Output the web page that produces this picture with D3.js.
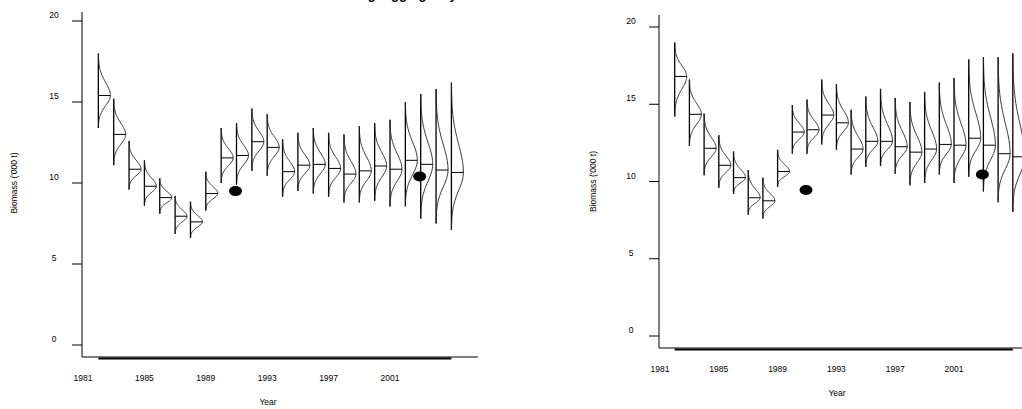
<!DOCTYPE html>
<html>
<head>
<meta charset="utf-8">
<script src="https://d3js.org/d3.v7.min.js"></script>
<style>
  body { margin: 0; background: #fff; }
  svg { display: block; font-family: "Liberation Sans", Arial, sans-serif; }
</style>
</head>
<body>
<svg id="chart" width="1022" height="409"></svg>
<script>
// Years shown as posterior distributions
var years = d3.range(1982, 2006);
var xTicks = [1981, 1985, 1989, 1993, 1997, 2001];
var yTicks = [0, 5, 10, 15, 20];

// Left panel: median, lower and upper extent ('000 t)
var leftMedian = [15.4, 13.0, 10.85, 9.8, 9.1, 7.95, 7.6, 9.35, 11.55, 11.7, 12.55, 12.2,
                  10.7, 11.1, 11.15, 10.9, 10.55, 10.75, 11.05, 10.85, 11.4, 11.15, 10.8, 10.65];
var leftLow = [13.4, 11.1, 9.6, 8.6, 8.1, 6.85, 6.6, 8.3, 10.0, 9.9, 10.75, 10.45,
               9.15, 9.5, 9.35, 9.15, 8.8, 8.8, 8.9, 8.55, 8.55, 7.8, 7.5, 7.1];
var leftHigh = [18.0, 15.2, 12.6, 11.4, 10.3, 9.2, 8.85, 10.7, 13.4, 13.7, 14.6, 14.25,
                12.7, 13.1, 13.4, 13.1, 13.0, 13.5, 13.7, 13.9, 15.0, 15.5, 15.8, 16.2];
var leftObsYears = [1991, 2003];
var leftObs = [9.5, 10.4];

// Right panel
var rightMedian = [16.8, 14.35, 12.15, 11.05, 10.25, 8.95, 8.75, 10.65, 13.2, 13.35, 14.3, 13.8,
                   12.1, 12.6, 12.6, 12.25, 11.9, 12.1, 12.4, 12.35, 12.8, 12.35, 11.8, 11.6];
var rightLow = [14.2, 12.3, 10.4, 9.6, 9.2, 7.85, 7.6, 9.65, 11.8, 11.8, 12.4, 12.05,
                10.45, 10.95, 11.0, 10.5, 9.75, 9.9, 10.45, 9.9, 10.3, 9.35, 8.65, 8.05];
var rightHigh = [19.0, 16.6, 14.4, 13.0, 11.95, 10.75, 10.25, 12.05, 14.95, 15.3, 16.6, 16.3,
                 14.65, 15.5, 16.0, 15.4, 15.15, 15.8, 16.4, 16.7, 17.9, 18.05, 18.05, 18.3];
var rightObsYears = [1991, 2003];
var rightObs = [9.45, 10.45];

var svg = d3.select("#chart");

// title sits mostly above the window, only descenders show
svg.append("text").attr("x", 370).attr("y", -1).attr("text-anchor", "middle")
  .attr("font-size", 13).attr("font-weight", "bold").text("Biomass using tagging only");

function drawPanel(p) {
  var g = svg.append("g");
  var x = d3.scaleLinear().domain([1981, 2001]).range([p.x0, p.x1]);
  var y = d3.scaleLinear().domain([0, 20]).range([p.y0, p.y20]);

  // y axis
  g.append("line").attr("x1", p.ax).attr("x2", p.ax).attr("y1", p.top).attr("y2", p.base)
    .attr("stroke", "#000");
  g.selectAll(".yt").data(yTicks).enter().append("line")
    .attr("x1", p.ax - 10).attr("x2", p.ax).attr("y1", d => y(d)).attr("y2", d => y(d))
    .attr("stroke", "#000");
  g.selectAll(".yl").data(yTicks).enter().append("text")
    .attr("x", p.ax - 28).attr("y", d => y(d) - 3).attr("text-anchor", "middle")
    .attr("font-size", 8.5).text(d => d);

  // x axis
  g.append("line").attr("x1", p.ax).attr("x2", p.right).attr("y1", p.base).attr("y2", p.base)
    .attr("stroke", "#000");
  g.append("line").attr("x1", x(years[0])).attr("x2", x(years[years.length - 1]))
    .attr("y1", p.base + 1.5).attr("y2", p.base + 1.5).attr("stroke", "#000").attr("stroke-width", 2);
  g.selectAll(".xl").data(xTicks).enter().append("text")
    .attr("x", d => x(d)).attr("y", p.base + 24).attr("text-anchor", "middle")
    .attr("font-size", 8.5).text(d => d);

  g.append("text").attr("x", p.xlabX).attr("y", p.base + 48).attr("text-anchor", "middle")
    .attr("font-size", 8.5).text("Year");
  g.append("text").attr("transform", "translate(" + p.ylabX + "," + (p.y0 + p.y20) / 2 + ") rotate(-90)")
    .attr("text-anchor", "middle").attr("font-size", 8.5).text("Biomass ('000 t)");

  // half violins
  years.forEach(function(yr, i) {
    var med = p.med[i], lo = p.lo[i], hi = p.hi[i];
    var su = (hi - med) / 3.2, sl = (med - lo) / 3.2;
    var vals = d3.range(0, 61).map(k => lo + (hi - lo) * k / 60);
    var line = d3.line()
      .x(v => x(yr) + 12 * Math.exp(-0.5 * Math.pow((v - med) / (v > med ? su : sl), 2)))
      .y(v => y(v));
    g.append("line").attr("x1", x(yr)).attr("x2", x(yr)).attr("y1", y(lo)).attr("y2", y(hi))
      .attr("stroke", "#000").attr("stroke-width", 1.3);
    g.append("path").attr("d", line(vals)).attr("fill", "none").attr("stroke", "#222").attr("stroke-width", 0.9);
    g.append("line").attr("x1", x(yr)).attr("x2", x(yr) + 12).attr("y1", y(med)).attr("y2", y(med))
      .attr("stroke", "#000");
  });

  // observed points
  g.selectAll(".obs").data(p.obsYears).enter().append("ellipse")
    .attr("cx", d => x(d) - 1).attr("cy", (d, i) => y(p.obs[i]))
    .attr("rx", 6.5).attr("ry", 5).attr("fill", "#000");
}

drawPanel({ x0: 83, x1: 390, y0: 345, y20: 21, ax: 82, top: 12, base: 357, right: 478,
  xlabX: 268, ylabX: 17, med: leftMedian, lo: leftLow, hi: leftHigh,
  obsYears: leftObsYears, obs: leftObs });
drawPanel({ x0: 660, x1: 954, y0: 336, y20: 27, ax: 659, top: 15, base: 348, right: 1022,
  xlabX: 837, ylabX: 596, med: rightMedian, lo: rightLow, hi: rightHigh,
  obsYears: rightObsYears, obs: rightObs });
</script>
</body>
</html>
